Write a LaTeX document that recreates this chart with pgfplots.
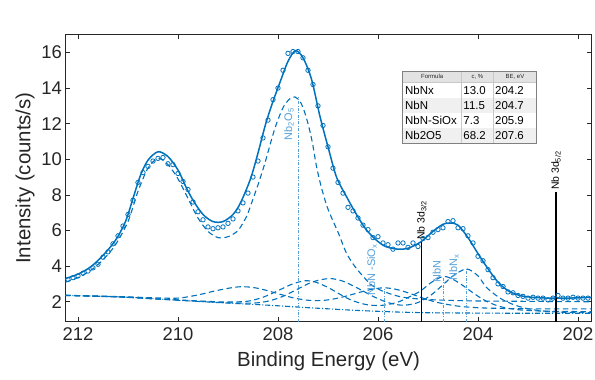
\documentclass[border=0pt]{standalone}
\usepackage{fontspec}
\setmainfont{Liberation Sans}
\usepackage{pgfplots}
\pgfplotsset{compat=1.18}
\definecolor{mblue}{RGB}{0,114,189}
\definecolor{lblue}{RGB}{86,160,216}
\definecolor{axgray}{RGB}{38,38,38}
\definecolor{hdrgray}{RGB}{226,226,226}
\definecolor{rowgray}{RGB}{240,240,240}
\definecolor{gridgray}{RGB}{200,200,200}
\tikzset{
 tabtxt/.style={anchor=west, font=\fontsize{11.5}{12}\selectfont, inner sep=0pt},
 hdrtxt/.style={font=\fontsize{6}{7}\selectfont, text=axgray},
 cmplbl/.style={rotate=90, anchor=south west, font=\fontsize{11}{12}\selectfont, text=lblue, inner sep=1bp},
}
\begin{document}
\begin{tikzpicture}
\path[use as bounding box] (-65.5bp,-58.3bp) rectangle (529.5bp,321.7bp);
\begin{axis}[
 at={(0,0)}, anchor=south west,
 scale only axis, width=526.2bp, height=287.4bp,
 x dir=reverse,
 xmin=201.726, xmax=212.25, ymin=0.876, ymax=17.02,
 xtick={202,204,...,212}, ytick={2,4,...,16},
 tick align=inside, major tick length=5bp,
 axis line style={axgray, line width=0.7bp},
 every tick/.style={axgray, line width=0.7bp},
 ticklabel style={font=\fontsize{18.5}{20}\selectfont, text=axgray},
 xticklabel style={yshift=-2bp},
 /pgf/number format/assume math mode=true,
 xlabel={Binding Energy (eV)}, ylabel={Intensity (counts/s)},
 label style={font=\fontsize{20.5}{22}\selectfont, text=axgray},
 xlabel style={at={(axis description cs:0.5,-0.1367)}, anchor=center},
 ylabel style={at={(axis description cs:-0.077,0.5)}, anchor=center},
 dashcomp/.style={mblue, line width=1.1bp, dash pattern=on 5.5bp off 3.5bp, smooth},
 markline/.style={lblue, line width=0.6bp, dash pattern=on 3bp off 1.5bp on 0.8bp off 1.5bp},
]
% background
\addplot[mblue, line width=1.1bp, dash pattern=on 5bp off 2bp on 1bp off 2bp, smooth] coordinates {
(212.25,2.35) (211.5,2.3) (211.0,2.25) (210.5,2.17) (210.0,2.08) (209.5,2.0) (209.0,1.92) (208.5,1.85) (208.0,1.77) (207.5,1.68) (207.0,1.6) (206.5,1.52) (206.0,1.46) (205.5,1.41) (205.0,1.38) (204.0,1.36) (203.0,1.35) (201.726,1.35)};
% NbNx
\addplot[dashcomp] coordinates {
(212.25,2.35) (211.5,2.29) (211.0,2.24) (210.5,2.16) (210.0,2.09) (209.5,2.01) (209.0,1.94) (208.5,1.92) (208.2,2.03) (207.9,2.3) (207.6,2.72) (207.3,3.12) (206.97,3.3) (206.7,3.15) (206.4,2.75) (206.1,2.3) (205.8,1.95) (205.5,1.8) (205.2,1.95) (204.95,2.35) (204.7,2.95) (204.5,3.45) (204.23,3.84) (204.0,3.45) (203.83,2.8) (203.56,2.2) (203.3,1.85) (203.0,1.6) (202.6,1.45) (202.2,1.4) (201.726,1.38)};
% NbN
\addplot[dashcomp] coordinates {
(212.25,2.36) (211.5,2.3) (211.0,2.25) (210.5,2.17) (210.0,2.1) (209.5,2.03) (209.0,1.98) (208.6,2.03) (208.3,2.25) (208.0,2.62) (207.75,2.95) (207.55,3.13) (207.43,3.18) (207.25,3.1) (207.0,2.8) (206.75,2.4) (206.5,2.05) (206.2,1.82) (205.9,1.8) (205.6,1.98) (205.35,2.3) (205.15,2.6) (204.95,3.05) (204.8,3.3) (204.69,3.42) (204.55,3.33) (204.35,3.0) (204.1,2.5) (203.85,2.05) (203.55,1.72) (203.2,1.55) (202.8,1.48) (202.2,1.45) (201.726,1.44)};
% NbN-SiOx
\addplot[dashcomp] coordinates {
(212.25,2.36) (211.5,2.31) (211.0,2.27) (210.5,2.22) (210.0,2.2) (209.6,2.38) (209.3,2.58) (209.0,2.75) (208.75,2.84) (208.5,2.8) (208.25,2.65) (208.0,2.45) (207.7,2.22) (207.4,2.08) (207.1,2.07) (206.8,2.2) (206.5,2.42) (206.2,2.65) (205.9,2.78) (205.65,2.7) (205.4,2.5) (205.1,2.2) (204.8,1.95) (204.4,1.75) (204.0,1.66) (203.5,1.62) (203.0,1.6) (202.0,1.6) (201.726,1.6)};
% Nb2O5
\addplot[dashcomp] coordinates {
(212.25,3.1) (212.0,3.35) (211.75,3.75) (211.5,4.35) (211.25,5.2) (211.0,6.5) (210.8,8.2) (210.6,9.5) (210.4,10.05) (210.2,9.7) (210.0,8.9) (209.8,7.8) (209.6,6.7) (209.4,5.95) (209.2,5.6) (209.0,5.65) (208.8,6.0) (208.63,6.78) (208.53,7.53) (208.39,8.65) (208.26,9.8) (208.13,11.1) (208.03,12.0) (207.89,12.95) (207.76,13.4) (207.66,13.5) (207.56,13.25) (207.48,12.75) (207.39,11.9) (207.31,10.9) (207.23,9.6) (207.13,8.4) (207.0,7.2) (206.79,5.84) (206.63,4.72) (206.46,3.97) (206.29,3.4) (206.13,2.94) (205.96,2.66) (205.69,2.38) (205.43,2.22) (205.0,2.12) (204.5,2.07) (204.0,2.04) (203.0,2.02) (202.0,2.0) (201.726,2.0)};
% component markers
\addplot[markline] coordinates {(207.59,0.876) (207.59,13.5)};
\addplot[markline] coordinates {(205.88,0.876) (205.88,2.78)};
\addplot[markline] coordinates {(204.69,0.876) (204.69,3.42)};
\addplot[markline] coordinates {(204.23,0.876) (204.23,3.84)};
% envelope
\addplot[mblue, line width=1.5bp, smooth] coordinates {
(212.25,3.30) (212.0,3.55) (211.75,3.95) (211.5,4.60) (211.25,5.45) (211.05,6.5) (210.9,7.8) (210.75,9.1) (210.6,9.95) (210.4,10.42) (210.2,10.15) (210.0,9.40) (209.85,8.50) (209.7,7.70) (209.5,6.90) (209.3,6.50) (209.1,6.50) (208.9,6.90) (208.75,7.55) (208.55,8.90) (208.4,10.35) (208.25,11.95) (208.1,13.25) (207.95,14.40) (207.8,15.50) (207.65,16.10) (207.5,15.70) (207.33,14.50) (207.16,12.40) (207.0,10.70) (206.83,9.00) (206.63,7.90) (206.43,6.90) (206.25,6.10) (206.05,5.50) (205.85,5.10) (205.6,4.95) (205.4,5.00) (205.15,5.35) (204.9,5.95) (204.7,6.35) (204.55,6.42) (204.4,6.30) (204.2,5.6) (204.0,4.70) (203.8,3.85) (203.6,3.10) (203.4,2.62) (203.2,2.38) (203.0,2.27) (202.6,2.20) (202.2,2.20) (201.726,2.25)};
% data
\addplot[only marks, mark=o, mark size=2.2bp, mblue, line width=0.8bp] coordinates {
(212.2,3.25) (212.1,3.35) (212.0,3.45) (211.9,3.6) (211.8,3.72) (211.7,3.9) (211.6,4.1) (211.5,4.5) (211.4,4.8) (211.3,5.25) (211.2,5.7) (211.1,6.25) (211.0,6.9) (210.9,7.7) (210.8,8.7) (210.7,9.25) (210.6,9.6) (210.5,9.9) (210.4,10.05) (210.3,10.1) (210.2,9.75) (210.1,9.7) (210.0,9.2) (209.9,8.75) (209.8,8.3) (209.7,7.6) (209.6,7.05) (209.5,6.6) (209.4,6.2) (209.3,6.1) (209.2,6.15) (209.1,6.2) (209.0,6.4) (208.9,6.65) (208.8,7.1) (208.7,7.55) (208.6,8.1) (208.5,9.0) (208.4,9.9) (208.3,11.2) (208.2,12.2) (208.1,13.35) (208.0,14.0) (207.9,15.0) (207.8,15.95) (207.7,16.05) (207.6,16.05) (207.5,15.7) (207.4,15.0) (207.3,14.2) (207.2,13.0) (207.1,11.9) (207.0,10.7) (206.9,9.5) (206.8,8.7) (206.7,8.1) (206.6,7.3) (206.5,7.1) (206.4,6.7) (206.3,6.3) (206.2,6.05) (206.1,5.6) (206.0,5.65) (205.9,5.3) (205.8,5.2) (205.7,4.95) (205.6,5.3) (205.5,5.3) (205.4,5.05) (205.3,5.3) (205.2,5.1) (205.1,5.55) (205.0,5.6) (204.9,5.9) (204.8,6.05) (204.7,6.15) (204.6,6.5) (204.5,6.55) (204.4,6.15) (204.3,6.1) (204.2,5.7) (204.1,5.3) (204.0,4.55) (203.9,4.3) (203.8,3.8) (203.7,3.35) (203.6,3.0) (203.5,2.85) (203.4,2.55) (203.3,2.5) (203.2,2.35) (203.1,2.3) (203.0,2.2) (202.9,2.25) (202.8,2.2) (202.7,2.2) (202.6,2.1) (202.5,2.2) (202.4,2.35) (202.3,2.2) (202.2,2.2) (202.1,2.25) (202.0,2.2) (201.9,2.2) (201.8,2.2)};
% black reference lines
\addplot[black, line width=1.1bp] coordinates {(205.126,0.876) (205.126,5.38)};
\addplot[black, line width=1.1bp] coordinates {(202.44,0.876) (202.44,8.18)};
\node[rotate=90, anchor=west, font=\fontsize{10.5}{12}\selectfont, inner sep=1.5bp] at (axis cs:205.126,5.38) {Nb 3d\textsubscript{3/2}};
\node[rotate=90, anchor=west, font=\fontsize{10.5}{12}\selectfont, inner sep=1.5bp] at (axis cs:202.44,8.18) {Nb 3d\textsubscript{5/2}};
% component labels
\node[cmplbl] at (axis cs:207.66,11.0) {Nb\textsubscript{2}O\textsubscript{5}};
\node[cmplbl] at (axis cs:206.0,2.28) {NbN -SiO\textsubscript{x}};
\node[cmplbl] at (axis cs:204.72,3.03) {NbN};
\node[cmplbl] at (axis cs:204.36,3.1) {NbN\textsubscript{x}};
% table
\fill[hdrgray] (axis cs:205.506,14.961) rectangle (axis cs:202.826,14.303);
\fill[white] (axis cs:205.506,14.303) rectangle (axis cs:202.826,13.452);
\fill[rowgray] (axis cs:205.506,13.452) rectangle (axis cs:202.826,12.601);
\fill[white] (axis cs:205.506,12.601) rectangle (axis cs:202.826,11.750);
\fill[rowgray] (axis cs:205.506,11.750) rectangle (axis cs:202.826,10.899);
\draw[gridgray, line width=0.5bp] (axis cs:204.326,14.961) -- (axis cs:204.326,10.899);
\draw[gridgray, line width=0.5bp] (axis cs:203.694,14.961) -- (axis cs:203.694,10.899);
\draw[gridgray, line width=0.5bp] (axis cs:205.506,14.303) -- (axis cs:202.826,14.303);
\draw[gray, line width=0.6bp] (axis cs:205.506,14.961) rectangle (axis cs:202.826,10.899);
\node[hdrtxt] at (axis cs:204.916,14.632) {Formula};
\node[hdrtxt] at (axis cs:204.01,14.632) {c, \%};
\node[hdrtxt] at (axis cs:203.26,14.632) {BE, eV};
\node[tabtxt] at (axis cs:205.46,13.878) {NbNx};
\node[tabtxt] at (axis cs:204.294,13.878) {13.0};
\node[tabtxt] at (axis cs:203.66,13.878) {204.2};
\node[tabtxt] at (axis cs:205.46,13.027) {NbN};
\node[tabtxt] at (axis cs:204.294,13.027) {11.5};
\node[tabtxt] at (axis cs:203.66,13.027) {204.7};
\node[tabtxt] at (axis cs:205.46,12.176) {NbN-SiOx};
\node[tabtxt] at (axis cs:204.294,12.176) {7.3};
\node[tabtxt] at (axis cs:203.66,12.176) {205.9};
\node[tabtxt] at (axis cs:205.46,11.325) {Nb2O5};
\node[tabtxt] at (axis cs:204.294,11.325) {68.2};
\node[tabtxt] at (axis cs:203.66,11.325) {207.6};
\node[anchor=south west, font=\fontsize{18.5}{20}\selectfont, text=axgray!80, inner sep=0pt] at (rel axis cs:0.005,1.015) {×10\textsuperscript{4}};
\end{axis}
\end{tikzpicture}
\end{document}
